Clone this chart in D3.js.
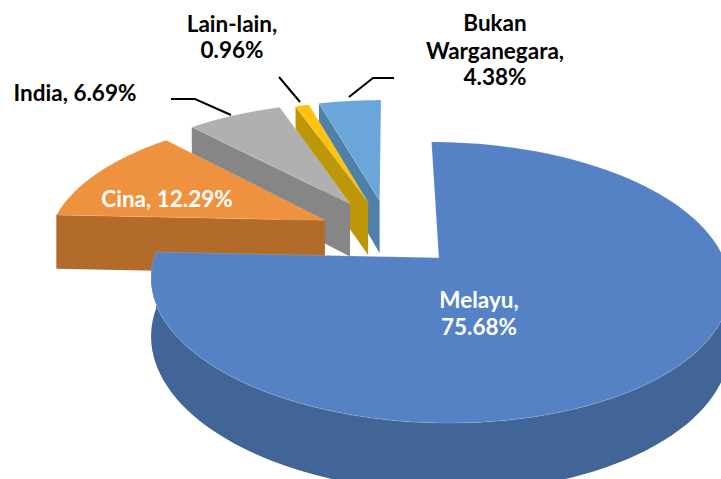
<!DOCTYPE html>
<html>

<head>
    <meta charset="UTF-8" />
    <title>pie</title>
    <style>
        body {
            margin: 0;
            padding: 0;
            background-color: #fff;
        }

        svg {
            display: block;
        }

        text {
            font-family: Lato, 'Open Sans', sans-serif;
            font-weight: 700;
            font-size: 22.5px;
            text-anchor: middle;
        }
    </style>
</head>

<body>
    <div class="container"></div>

    <script src="https://cdnjs.cloudflare.com/ajax/libs/d3/7.8.5/d3.min.js"></script>
    <script>
        const categories = ['Melayu', 'Cina', 'India', 'Lain-lain', 'Bukan Warganegara']
        const shares = [75.68, 12.29, 6.69, 0.96, 4.38]
        const topColors = ['#5582c5', '#ef9240', '#b0b0b0', '#ffc30f', '#6aa6da']
        const sideColors = ['#406596', '#b36b2a', '#868686', '#bc9708', '#5080a8']

        const width = 721
        const height = 479

        // label lines, each with its own position and colour
        const labelLines = [
            [['Melayu,', 479, 308], ['75.68%', 479, 335]],
            [['Cina, 12.29%', 167, 207]],
            [['India, 6.69%', 75, 101]],
            [['Lain-lain,', 232, 32], ['0.96%', 232, 58]],
            [['Bukan', 495, 31], ['Warganegara,', 495, 59], ['4.38%', 495, 85]],
        ]
        const labelColors = ['#fff', '#fff', '#000', '#000', '#000']

        const leaders = [
            [[171, 99], [195, 99], [231, 115]],
            [[279, 77], [300, 102]],
            [[394, 78], [373, 78], [349, 97]],
        ]

        // fake 3d: plane coordinates (u right, v away from viewer) to the screen
        const cx = 389.6, cy = 234, A = 128, B = 276, k = 0.17
        const thickness = 55
        const explodeX = 0.25, explodeY = 0.25
        const pointExplode = [1, 1.05, 1.15, 1.08, 1.1]

        const project = (u, v, drop = 0) => {
            const d = 1 + k * v
            return [cx + B * u / d, cy - A * v / d + drop * thickness / d]
        }

        const pie = d3.pie().sort(null)
        const slices = pie(shares)

        const line = d3.line()
        const svg = d3.select('.container').append('svg')
            .attr('width', width)
            .attr('height', height)

        // far slices first, Melayu goes on top of all of them
        const order = [4, 3, 2, 1, 0]

        order.forEach(i => {
            const s = slices[i]
            const mid = (s.startAngle + s.endAngle) / 2
            const u0 = explodeX * pointExplode[i] * Math.sin(mid)
            const v0 = explodeY * pointExplode[i] * Math.cos(mid)
            const steps = d3.range(0, 121).map(n => s.startAngle + (s.endAngle - s.startAngle) * n / 120)
            const rim = steps.map(a => [u0 + Math.sin(a), v0 + Math.cos(a)])
            const frontRim = rim.filter(p => p[1] - v0 < 0.05)

            const g = svg.append('g')
            const pts = (list, drop) => list.map(p => project(p[0], p[1], drop))
            const face = (list) => pts(list, 0).concat(pts(list, 1).reverse())

            // walls, only the ones that face the viewer
            if (i > 0) {
                g.append('path').attr('d', line(face([[u0, v0], rim[0]]))).attr('fill', sideColors[i])
            }
            if (frontRim.length > 1) {
                g.append('path').attr('d', line(face(frontRim))).attr('fill', sideColors[i])
            }

            // top
            g.append('path')
                .attr('d', line(pts([[u0, v0], ...rim], 0)) + 'Z')
                .attr('fill', topColors[i])
                .attr('stroke', '#fff')
                .attr('stroke-opacity', 0.25)
                .attr('stroke-width', 0.6)
        })

        svg.append('g').selectAll('path')
            .data(leaders)
            .join('path')
            .attr('d', d => line(d))
            .attr('fill', 'none')
            .attr('stroke', '#000')
            .attr('stroke-width', 2)

        labelLines.forEach((lines, i) => {
            svg.append('g').selectAll('text')
                .data(lines)
                .join('text')
                .attr('x', d => d[1])
                .attr('y', d => d[2])
                .attr('fill', labelColors[i])
                .text(d => d[0])
        })
    </script>
</body>

</html>
